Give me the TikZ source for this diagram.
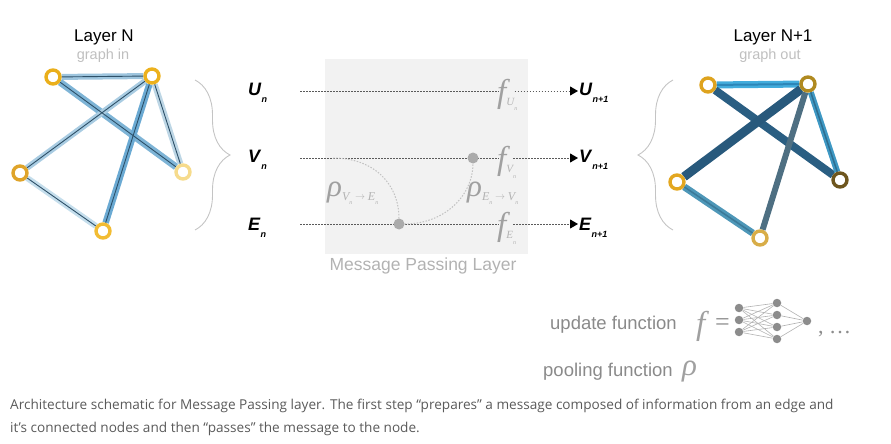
\documentclass[tikz,border=0pt]{standalone}
\usepackage{fontspec}
\setmainfont{Liberation Sans}
\newfontfamily\capfont{Open Sans}
\newfontfamily\sym{Liberation Serif}
\newfontfamily\symit{Liberation Serif Italic}
\usetikzlibrary{arrows.meta,decorations.pathreplacing}
\pgfdeclarelayer{background}
\pgfsetlayers{background,main}
\definecolor{coreblue}{HTML}{2D5068}
\definecolor{trackgray}{HTML}{5A5A5A}
\definecolor{poolgray}{HTML}{C2C2C2}
\definecolor{dotgray}{HTML}{ABABAB}
\definecolor{fgray}{HTML}{A0A0A0}
\definecolor{subgray}{HTML}{B3B3B3}
\definecolor{bracegray}{HTML}{C4C4C4}
\definecolor{nngray}{HTML}{8C8C8C}
\definecolor{txtgray}{HTML}{8A8A8A}
\definecolor{capgray}{HTML}{5A5A5A}
\definecolor{gold}{HTML}{EAAF1B}
\definecolor{goldb}{HTML}{ECB11D}
\definecolor{goldc}{HTML}{DFA42A}
\definecolor{goldd}{HTML}{F6DB8C}
\definecolor{golde}{HTML}{F2BC33}
\definecolor{outa}{HTML}{DEA31E}
\definecolor{outb}{HTML}{B08A20}
\definecolor{outc}{HTML}{E3A720}
\definecolor{outd}{HTML}{6E561E}
\definecolor{oute}{HTML}{D8AD48}
\newcommand{\inlbl}[2]{\textbf{\textit{#1}}\raisebox{-7pt}{\fontsize{9}{9}\selectfont\textbf{\textit{#2}}}}
\newcommand{\fsym}[2]{{\color{fgray}\symit\fontsize{33}{33}\selectfont f}\raisebox{-3pt}{\color{subgray}\symit\fontsize{11}{11}\selectfont #1}\raisebox{-9pt}{\color{subgray}\symit\fontsize{6}{6}\selectfont #2}}
\newcommand{\rsym}[4]{{\color{fgray}\symit\fontsize{31}{31}\selectfont ρ}\raisebox{-4pt}{\color{subgray}\symit\fontsize{12}{12}\selectfont #1}\raisebox{-8pt}{\color{subgray}\symit\fontsize{6}{6}\selectfont #2}\raisebox{-3pt}{\color{subgray}\fontsize{10}{10}\selectfont$\;\rightarrow\;$}\raisebox{-4pt}{\color{subgray}\symit\fontsize{12}{12}\selectfont #3}\raisebox{-8pt}{\color{subgray}\symit\fontsize{6}{6}\selectfont #4}}
\begin{document}
\begin{tikzpicture}[x=1pt,y=-1pt,
  vtx/.style={circle,draw=#1,fill=white,line width=3.4pt,minimum size=14pt,inner sep=0pt},
  core/.style={draw=coreblue,line width=0.9pt},
  track/.style={draw=trackgray,line width=1pt,dash pattern=on 1.6pt off 1.4pt},
  flow/.style={track,-{Triangle[length=8pt,width=9pt,black]}},
  pool/.style={draw=poolgray,line width=1pt,dash pattern=on 1.5pt off 1.5pt},
  dot/.style={circle,fill=dotgray,inner sep=0pt,minimum size=11pt},
  brc/.style={draw=bracegray,line width=0.9pt,decorate,decoration={brace,amplitude=35pt}},
  nn/.style={circle,fill=nngray,inner sep=0pt,minimum size=8.5pt},
  lbl/.style={inner sep=1pt,anchor=base west,font=\fontsize{18}{18}\selectfont}]
  \useasboundingbox (0,0) rectangle (891,444);
  % message passing box
  \fill[black!5] (325,59) rectangle (528,254);
  \node[text=black!30,font=\fontsize{17.5}{17.5}\selectfont] (mpl) at (423,266) {Message Passing Layer};
  % graph in
  \node[font=\fontsize{17}{17}\selectfont] (tin) at (104,37) {Layer N};
  \node[text=black!25,font=\fontsize{14.5}{14.5}\selectfont] (gin) at (103,56) {graph in};
  \node[vtx=gold] (a1) at (53,77) {};
  \node[vtx=goldb] (b1) at (152,76) {};
  \node[vtx=goldc] (c1) at (20,173) {};
  \node[vtx=goldd] (d1) at (183,172) {};
  \node[vtx=golde] (e1) at (103,231) {};
  \begin{pgfonlayer}{background}
    \draw[line width=6pt,color={rgb,255:red,158;green,197;blue,222}] (a1) -- (b1);
    \draw[line width=7pt,color={rgb,255:red,126;green,180;blue,214}] (a1) -- (d1);
    \draw[line width=6pt,color={rgb,255:red,169;green,204;blue,226}] (b1) -- (c1);
    \draw[line width=6.5pt,color={rgb,255:red,107;green,170;blue,211}] (b1) -- (e1);
    \draw[line width=6pt,color={rgb,255:red,189;green,214;blue,229}] (b1) -- (d1);
    \draw[line width=6pt,color={rgb,255:red,197;green,222;blue,236}] (c1) -- (e1);
    \draw[core] (a1) -- (b1);
    \draw[core] (a1) -- (d1);
    \draw[core] (b1) -- (c1);
    \draw[core] (b1) -- (e1);
    \draw[core] (b1) -- (d1);
    \draw[core] (c1) -- (e1);
  \end{pgfonlayer}
  % graph out
  \node[font=\fontsize{17}{17}\selectfont] (tout) at (773,37) {Layer N+1};
  \node[text=black!25,font=\fontsize{14.5}{14.5}\selectfont] (gout) at (770,56) {graph out};
  \node[vtx=outa] (a2) at (708,85) {};
  \node[vtx=outb] (b2) at (808,84) {};
  \node[vtx=outc] (c2) at (677,182) {};
  \node[vtx=outd] (d2) at (840,180) {};
  \node[vtx=oute] (e2) at (760,238) {};
  \begin{pgfonlayer}{background}
    \draw[line width=7pt,color={rgb,255:red,66;green,172;blue,220}] (a2) -- (b2);
    \draw[line width=2pt,color={rgb,255:red,44;green,134;blue,184}] (a2) -- (b2);
    \draw[line width=8pt,color={rgb,255:red,42;green,94;blue,130}] (a2) -- (d2);
    \draw[line width=9pt,color={rgb,255:red,40;green,89;blue,124}] (b2) -- (c2);
    \draw[line width=6pt,color={rgb,255:red,78;green,111;blue,130}] (b2) -- (e2);
    \draw[line width=6pt,color={rgb,255:red,62;green,152;blue,196}] (b2) -- (d2);
    \draw[line width=1.5pt,color={rgb,255:red,46;green,110;blue,144}] (b2) -- (d2);
    \draw[line width=7pt,color={rgb,255:red,78;green,151;blue,184}] (c2) -- (e2);
    \draw[line width=1.5pt,color={rgb,255:red,60;green,122;blue,153}] (c2) -- (e2);
  \end{pgfonlayer}
  % braces
  \coordinate (bl1) at (195,80);
  \coordinate (bl2) at (195,230);
  \coordinate (br1) at (673,230);
  \coordinate (br2) at (673,80);
  \draw[brc] (bl1) -- (bl2);
  \draw[brc] (br1) -- (br2);
  % inputs
  \node[lbl] (un) at (247,95) {\inlbl{U}{n}};
  \node[lbl] (vn) at (247,162) {\inlbl{V}{n}};
  \node[lbl] (en) at (247,230) {\inlbl{E}{n}};
  \coordinate (u0) at (300,91);
  \coordinate (v0) at (300,158);
  \coordinate (e0) at (300,224);
  % update functions
  \node[inner sep=0pt,anchor=base west] (fu) at (497,102) {\fsym{U}{n}};
  \node[inner sep=0pt,anchor=base west] (fv) at (497,169) {\fsym{V}{n}};
  \node[inner sep=0pt,anchor=base west] (fe) at (497,235) {\fsym{E}{n}};
  % outputs
  \node[lbl] (un1) at (578,95) {\inlbl{U}{n+1}};
  \node[lbl] (vn1) at (578,162) {\inlbl{V}{n+1}};
  \node[lbl] (en1) at (578,230) {\inlbl{E}{n+1}};
  \draw[track] (u0) -- ([xshift=2pt]u0 -| fu.west);
  \draw[track] (v0) -- ([xshift=2pt]v0 -| fv.west);
  \draw[track] (e0) -- ([xshift=2pt]e0 -| fe.west);
  \draw[flow] ([xshift=-3pt]u0 -| fu.east) -- (u0 -| un1.west);
  \draw[flow] ([xshift=-3pt]v0 -| fv.east) -- (v0 -| vn1.west);
  \draw[flow] ([xshift=-3pt]e0 -| fe.east) -- (e0 -| en1.west);
  % pooling
  \node[dot] (pv) at (473,158) {};
  \node[dot] (pe) at (399,224) {};
  \coordinate (vstart) at (333,158);
  \draw[pool] (vstart) .. controls (375,158) and (399,185) .. (pe.north);
  \draw[pool] (pe.east) .. controls (445,224) and (473,195) .. (pv.south);
  \node[inner sep=0pt,anchor=base west] (rve) at (327,196) {\rsym{V}{n}{E}{n}};
  \node[inner sep=0pt,anchor=base west] (rev) at (467,196) {\rsym{E}{n}{V}{n}};
  % legend
  \node[inner sep=0pt,anchor=base west,text=txtgray,font=\fontsize{18.5}{18.5}\selectfont] (upd) at (550,329) {update function};
  \node[inner sep=0pt,anchor=base west,text=fgray,font=\symit\fontsize{33}{33}\selectfont] (fl) at (696,334) {f};
  \node[inner sep=0pt,anchor=base west,text=nngray,font=\sym\fontsize{26}{26}\selectfont] (eq) at (715,330) {=};
  \foreach \i/\y in {1/308,2/320,3/332} \node[nn] (i\i) at (739,\y) {};
  \foreach \j/\y in {1/303,2/315,3/327,4/339} \node[nn] (h\j) at (777,\y) {};
  \node[nn] (o1) at (807,321) {};
  \begin{pgfonlayer}{background}
    \foreach \i in {1,2,3} \foreach \j in {1,2,3,4} \draw[black!30,line width=0.6pt] (i\i) -- (h\j);
    \foreach \j in {1,2,3,4} \draw[black!30,line width=0.6pt] (h\j) -- (o1);
  \end{pgfonlayer}
  \node[inner sep=0pt,anchor=base west,text=nngray,font=\sym\fontsize{22}{22}\selectfont] (etc) at (818,333) {, …};
  \node[inner sep=0pt,anchor=base west,text=txtgray,font=\fontsize{18.5}{18.5}\selectfont] (pool) at (543,376) {pooling function};
  \node[inner sep=0pt,anchor=base west,text=fgray,font=\symit\fontsize{31}{31}\selectfont] (rl) at (682,375) {ρ};
  % caption
  \node[inner sep=0pt,anchor=base west,text=capgray,font=\capfont\fontsize{13.6}{13.6}\selectfont] (cap1) at (10,409) {Architecture schematic for Message Passing layer. The first step “prepares” a message composed of information from an edge and};
  \node[inner sep=0pt,anchor=base west,text=capgray,font=\capfont\fontsize{13.6}{13.6}\selectfont] (cap2) at (10,432) {it’s connected nodes and then “passes” the message to the node.};
\end{tikzpicture}
\end{document}
